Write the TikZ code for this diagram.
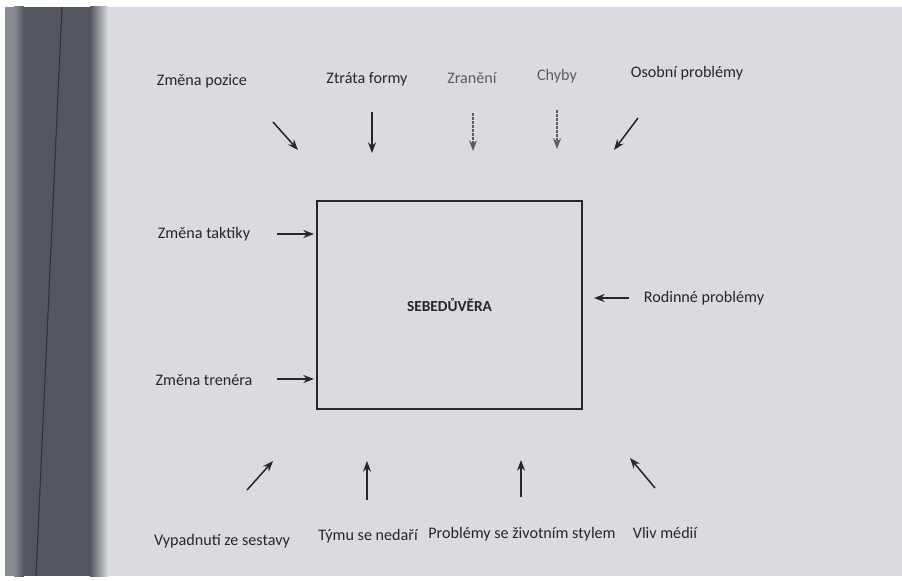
\documentclass[tikz,border=0pt]{standalone}
\usepackage{fontspec}
\setmainfont{Carlito}
\usetikzlibrary{arrows.meta}
\definecolor{page}{HTML}{D9DBE0}
\definecolor{spine}{HTML}{55575E}
\definecolor{edge}{HTML}{8A8C94}
\definecolor{ink}{HTML}{26262B}
\definecolor{faint}{HTML}{5A5C62}
\tikzset{
  lbl/.style={text=ink, font=\fontsize{12.1}{14}\selectfont, inner sep=0pt},
  lblfaint/.style={lbl, text=faint},
  arr/.style={draw=ink, line width=1.15pt, -{Stealth[length=8pt,width=6pt]}},
  arrfaint/.style={arr, draw=faint, line width=1pt, dash pattern=on 2pt off 1pt},
}
\begin{document}
\begin{tikzpicture}[x=0.75pt,y=-0.75pt]
\useasboundingbox (0,0) rectangle (902,581);
\fill[white] (0,0) rectangle (902,581);
\fill[page] (5,7) rectangle (902,576);
\fill[edge] (5,7) rectangle (18,576);
\shade[left color=edge, right color=spine] (14,7) rectangle (24,576);
\fill[spine] (24,7) rectangle (90,576);
\shade[left color=spine, right color=page] (90,7) rectangle (108,576);
\draw[black!80, line width=0.8pt] (62,7) -- (36,576);

% central box
\node[draw=ink, line width=1.5pt, minimum width=198.75pt, minimum height=156pt,
      font=\bfseries\fontsize{11.5}{14}\selectfont, text=ink] (box) at (449.5,305) {SEBEDŮVĚRA};

% top labels
\node[lbl] (pozice) at (202,81) {Změna pozice};
\node[lbl] (forma) at (367,79) {Ztráta formy};
\node[lblfaint] (zraneni) at (472,78) {Zranění};
\node[lblfaint] (chyby) at (557,76) {Chyby};
\node[lbl] (osobni) at (687,73) {Osobní problémy};

% side labels
\node[lbl] (taktika) at (204,234) {Změna taktiky};
\node[lbl] (trener) at (204,380) {Změna trenéra};
\node[lbl] (rodina) at (704,298) {Rodinné problémy};

% bottom labels
\node[lbl] (sestava) at (222,541) {Vypadnutí ze sestavy};
\node[lbl] (tym) at (368,536) {Týmu se nedaří};
\node[lbl] (styl) at (522,534) {Problémy se životním stylem};
\node[lbl] (media) at (665,533) {Vliv médií};

% arrow end points
\coordinate (a1s) at (273,122); \coordinate (a1e) at (298,150);
\coordinate (a2s) at (372,112); \coordinate (a2e) at (372,153);
\coordinate (a3s) at (473,113); \coordinate (a3e) at (473,151);
\coordinate (a4s) at (557,110); \coordinate (a4e) at (557,149);
\coordinate (a5s) at (638,118); \coordinate (a5e) at (614,150);
\coordinate (a6s) at (277,234); \coordinate (a6e) at (314,234);
\coordinate (a7s) at (277,379); \coordinate (a7e) at (314,379);
\coordinate (a8s) at (629,298); \coordinate (a8e) at (594,298);
\coordinate (a9s) at (247,490); \coordinate (a9e) at (273,461);
\coordinate (a10s) at (367,500); \coordinate (a10e) at (367,461);
\coordinate (a11s) at (521,497); \coordinate (a11e) at (521,460);
\coordinate (a12s) at (655,488); \coordinate (a12e) at (630,458);

\draw[arr] (a1s) -- (a1e);
\draw[arr] (a2s) -- (a2e);
\draw[arrfaint] (a3s) -- (a3e);
\draw[arrfaint] (a4s) -- (a4e);
\draw[arr] (a5s) -- (a5e);
\draw[arr] (a6s) -- (a6e);
\draw[arr] (a7s) -- (a7e);
\draw[arr] (a8s) -- (a8e);
\draw[arr] (a9s) -- (a9e);
\draw[arr] (a10s) -- (a10e);
\draw[arr] (a11s) -- (a11e);
\draw[arr] (a12s) -- (a12e);
\end{tikzpicture}
\end{document}
